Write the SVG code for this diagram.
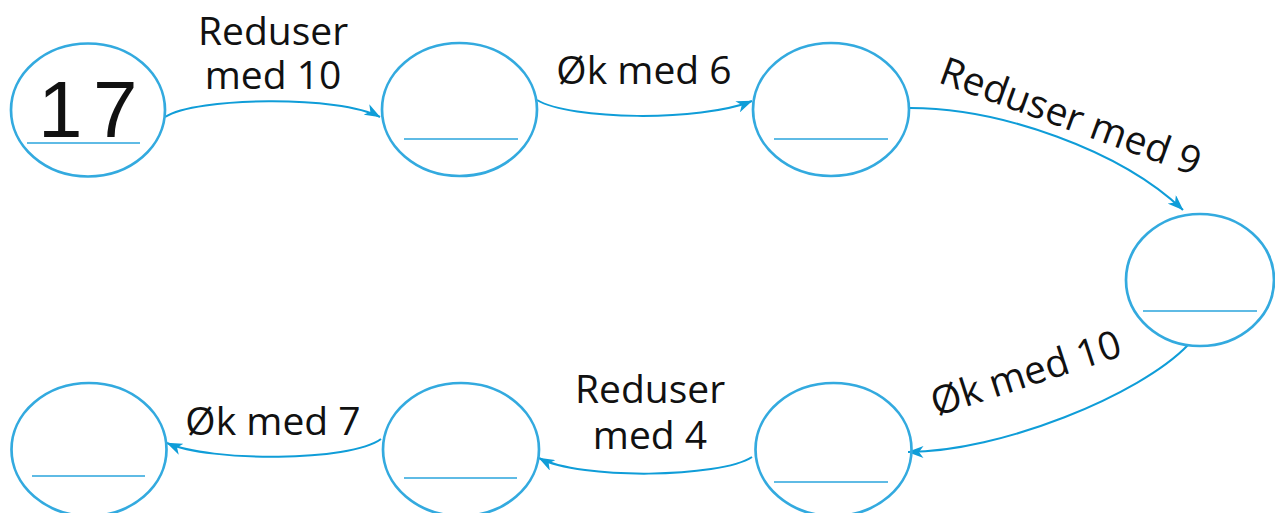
<svg xmlns="http://www.w3.org/2000/svg" width="1275" height="513" viewBox="0 0 1275 513">
<style>
.node ellipse{fill:none;stroke:#33aadf;stroke-width:2.7}
.node line{stroke:#2aa5dc;stroke-width:1.6}
.lbl{font-family:"Open Sans","Noto Sans",sans-serif;font-size:39px;fill:#111;text-anchor:middle}
.num{font-family:"Liberation Sans",Arial,sans-serif;font-size:80px;fill:#111}
#connectors path{fill:none;stroke:#0f9dd8;stroke-width:2}
</style>
<defs>
<marker id="arr" viewBox="0 0 16 12" refX="15.5" refY="6" markerWidth="16" markerHeight="12" markerUnits="userSpaceOnUse" orient="auto">
<path d="M0,0 L16,6 L0,12 L4.5,6 Z" fill="#0f9dd8"/>
</marker>
</defs>
<rect width="1275" height="513" fill="#fff"/>
<g id="connectors">
<path d="M165,117 C195,97 340,95 380,117" marker-end="url(#arr)"/>
<path d="M537,100 C570,120 700,122 752,101" marker-end="url(#arr)"/>
<path d="M910,108 C1000,108 1120,150 1183,210" marker-end="url(#arr)"/>
<path d="M1188,345 C1140,395 1000,452 908,452" marker-end="url(#arr)"/>
<path d="M752,457 C720,478 580,480 539,458" marker-end="url(#arr)"/>
<path d="M381,439 C350,462 210,462 167,443" marker-end="url(#arr)"/>
</g>
<g id="labels">
<text class="lbl" x="273" y="45">Reduser<tspan x="273" y="89">med 10</tspan></text>
<text class="lbl" x="644" y="84">Øk med 6</text>
<text class="lbl" transform="translate(1066,129) rotate(20)">Reduser med 9</text>
<text class="lbl" transform="translate(1030,386) rotate(-18)">Øk med 10</text>
<text class="lbl" x="650" y="403">Reduser<tspan x="650" y="449">med 4</tspan></text>
<text class="lbl" x="273" y="435">Øk med 7</text>
</g>
<g id="n1" class="node">
<ellipse cx="88" cy="110" rx="77" ry="66.5"/>
<line x1="27" y1="143" x2="140" y2="143"/>
<text class="num" x="38" y="137">1<tspan x="93">7</tspan></text>
</g>
<g id="n2" class="node">
<ellipse cx="459.5" cy="109.5" rx="77.5" ry="66.5"/>
<line x1="404" y1="139" x2="518" y2="139"/>
</g>
<g id="n3" class="node">
<ellipse cx="831" cy="109.5" rx="78" ry="66.5"/>
<line x1="774" y1="139" x2="888" y2="139"/>
</g>
<g id="n4" class="node">
<ellipse cx="1200" cy="280" rx="74" ry="66"/>
<line x1="1143" y1="311" x2="1257" y2="311"/>
</g>
<g id="n5" class="node">
<ellipse cx="833.5" cy="449.5" rx="78" ry="66.5"/>
<line x1="774" y1="482" x2="888" y2="482"/>
</g>
<g id="n6" class="node">
<ellipse cx="461" cy="449.5" rx="78" ry="66.5"/>
<line x1="404" y1="478" x2="517" y2="478"/>
</g>
<g id="n7" class="node">
<ellipse cx="89" cy="449.5" rx="77.5" ry="66.5"/>
<line x1="32" y1="476" x2="145" y2="476"/>
</g>
</svg>
